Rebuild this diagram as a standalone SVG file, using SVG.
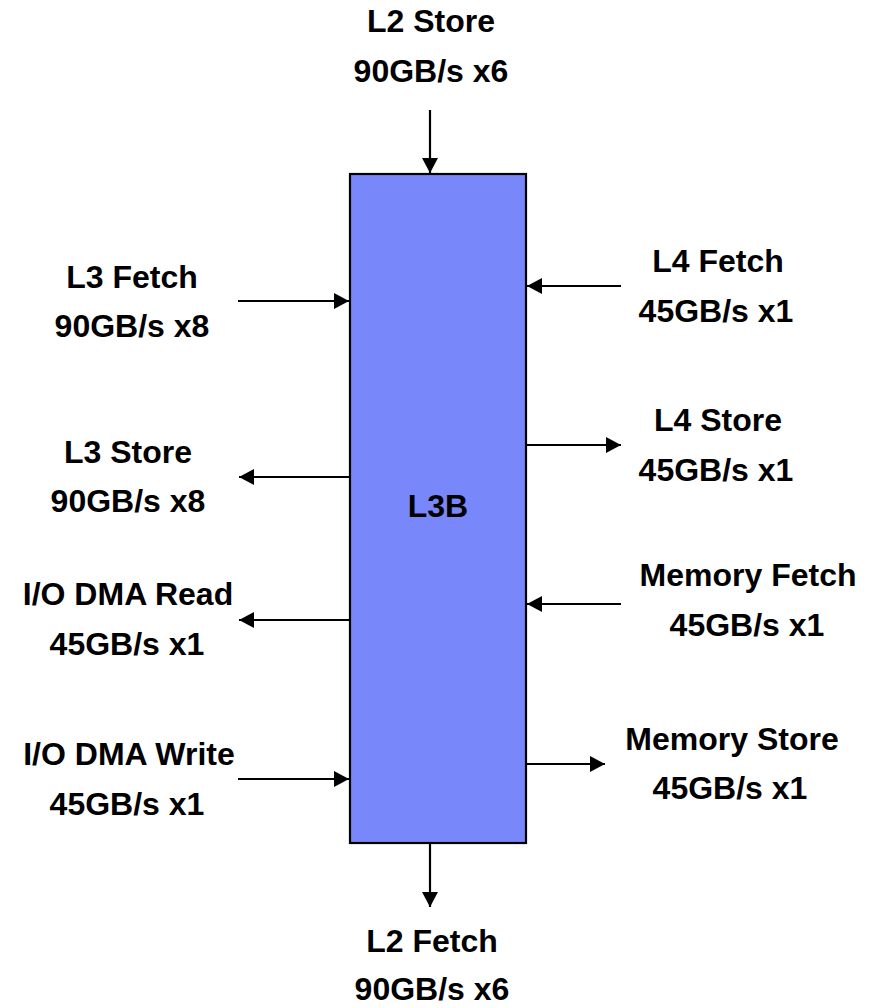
<svg xmlns="http://www.w3.org/2000/svg" width="869" height="1008" viewBox="0 0 869 1008">
  <style>
    .lbl { font-family: "Liberation Sans", Arial, sans-serif; font-weight: bold; font-size: 32px; fill: #000; text-anchor: middle; }
    .conn { stroke: #000; stroke-width: 2.2; fill: none; marker-end: url(#head); }
    .block { fill: #7888FA; stroke: #000; stroke-width: 2.2; }
  </style>
  <defs>
    <marker id="head" markerUnits="userSpaceOnUse" markerWidth="16" markerHeight="16" refX="15" refY="8" orient="auto" overflow="visible">
      <path d="M0,0 L15,8 L0,16 Z" fill="#000"/>
    </marker>
  </defs>

  <rect width="869" height="1008" fill="#fff"/>

  <!-- central cache block -->
  <g id="l3b">
    <rect class="block" x="350" y="174" width="176" height="669"/>
    <text class="lbl" x="438" y="517">L3B</text>
  </g>

  <!-- port labels -->
  <g id="l2-store">
    <text class="lbl" x="431" y="32">L2 Store</text>
    <text class="lbl" x="431" y="82">90GB/s x6</text>
  </g>
  <g id="l2-fetch">
    <text class="lbl" x="432" y="952">L2 Fetch</text>
    <text class="lbl" x="432" y="1000">90GB/s x6</text>
  </g>
  <g id="l3-fetch">
    <text class="lbl" x="132" y="288">L3 Fetch</text>
    <text class="lbl" x="132" y="337">90GB/s x8</text>
  </g>
  <g id="l3-store">
    <text class="lbl" x="128" y="463">L3 Store</text>
    <text class="lbl" x="128" y="512">90GB/s x8</text>
  </g>
  <g id="io-dma-read">
    <text class="lbl" x="128" y="605">I/O DMA Read</text>
    <text class="lbl" x="127" y="655">45GB/s x1</text>
  </g>
  <g id="io-dma-write">
    <text class="lbl" x="129" y="765">I/O DMA Write</text>
    <text class="lbl" x="127" y="815">45GB/s x1</text>
  </g>
  <g id="l4-fetch">
    <text class="lbl" x="718" y="272">L4 Fetch</text>
    <text class="lbl" x="716" y="322">45GB/s x1</text>
  </g>
  <g id="l4-store">
    <text class="lbl" x="718" y="431">L4 Store</text>
    <text class="lbl" x="716" y="481">45GB/s x1</text>
  </g>
  <g id="memory-fetch">
    <text class="lbl" x="748" y="586">Memory Fetch</text>
    <text class="lbl" x="747" y="636">45GB/s x1</text>
  </g>
  <g id="memory-store">
    <text class="lbl" x="732" y="750">Memory Store</text>
    <text class="lbl" x="730" y="799">45GB/s x1</text>
  </g>

  <!-- data paths into and out of the block -->
  <g id="connectors">
    <line class="conn" x1="430" y1="110" x2="430" y2="173"/>
    <line class="conn" x1="430" y1="844" x2="430" y2="907"/>
    <line class="conn" x1="238" y1="301" x2="349" y2="301"/>
    <line class="conn" x1="349" y1="477" x2="239" y2="477"/>
    <line class="conn" x1="349" y1="620" x2="239" y2="620"/>
    <line class="conn" x1="238" y1="779" x2="349" y2="779"/>
    <line class="conn" x1="621" y1="286" x2="527" y2="286"/>
    <line class="conn" x1="527" y1="445" x2="621" y2="445"/>
    <line class="conn" x1="621" y1="604" x2="527" y2="604"/>
    <line class="conn" x1="527" y1="764" x2="605" y2="764"/>
  </g>
</svg>
